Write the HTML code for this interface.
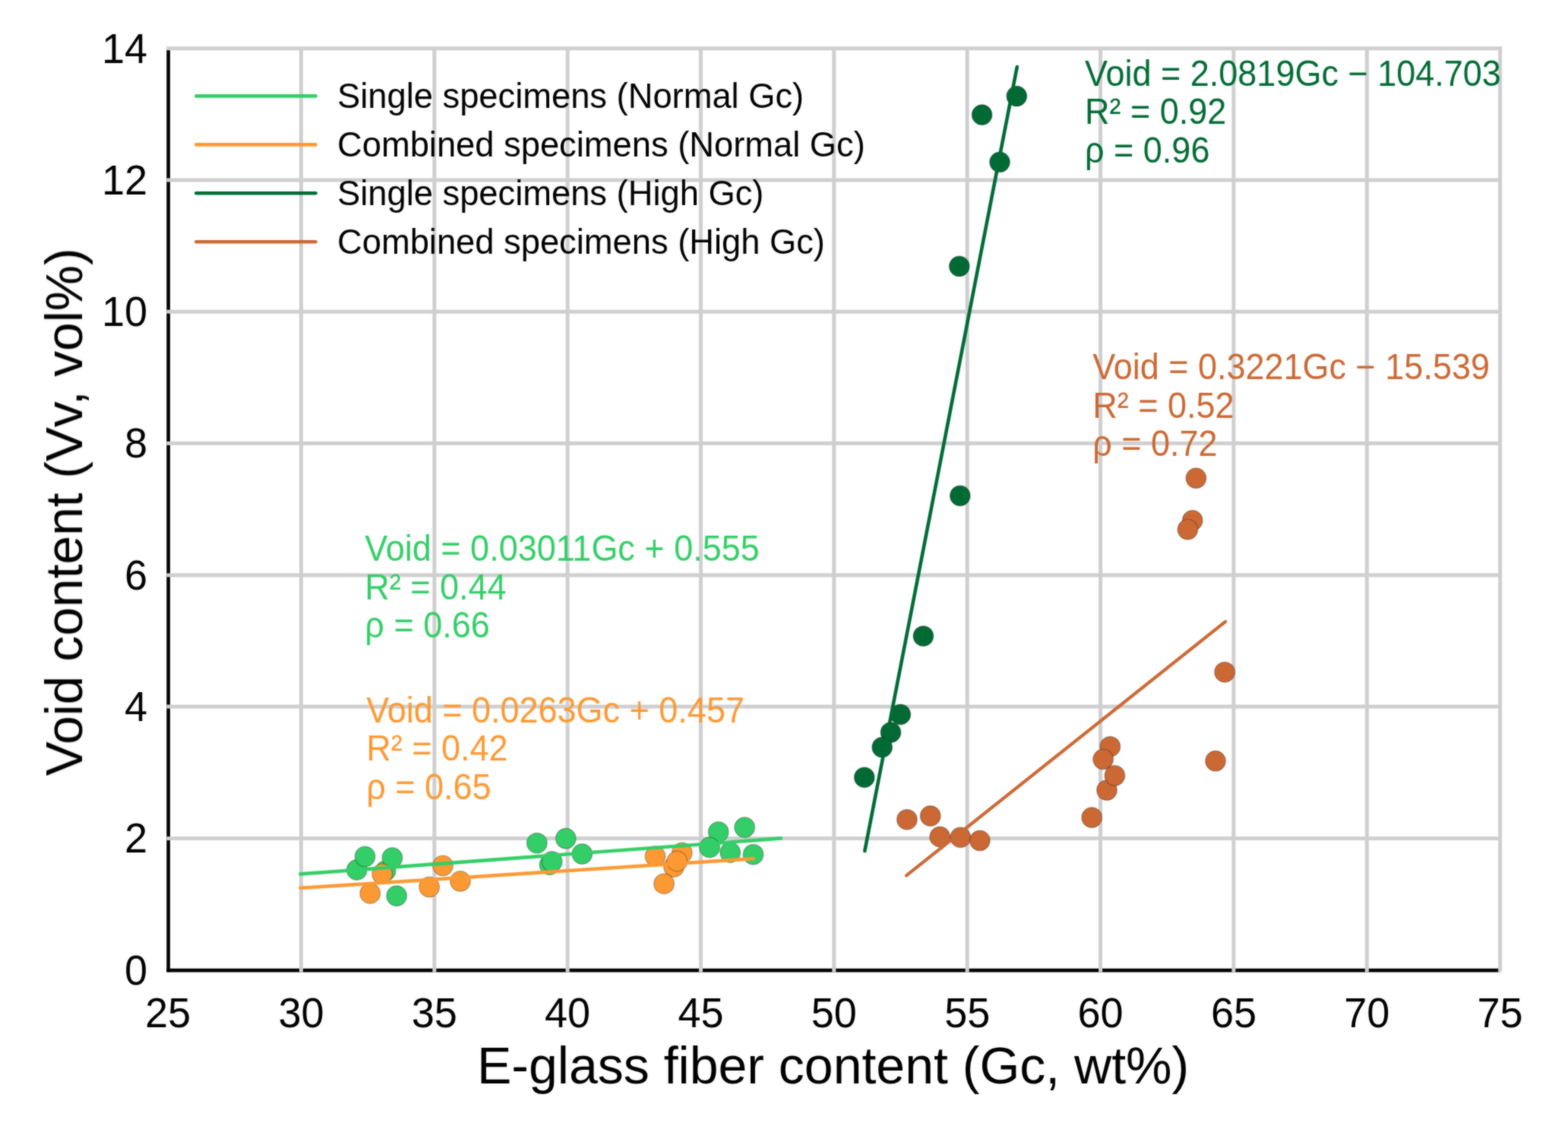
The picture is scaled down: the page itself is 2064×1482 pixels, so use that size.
<!DOCTYPE html>
<html><head><meta charset="utf-8"><title>Void content vs E-glass fiber content</title>
<style>html,body{margin:0;padding:0;background:#fff;width:2064px;height:1482px;overflow:hidden}</style>
</head><body>
<svg width="2064" height="1482" viewBox="0 0 2064 1482" style="display:block">
<defs><filter id="soft" x="0" y="0" width="2064" height="1482" filterUnits="userSpaceOnUse" color-interpolation-filters="sRGB"><feGaussianBlur in="SourceGraphic" stdDeviation="1" result="b"/><feComposite in="SourceGraphic" in2="b" operator="arithmetic" k1="0" k2="0.45" k3="0.55" k4="0"/></filter></defs>
<rect width="2064" height="1482" fill="#fff"/>
<g filter="url(#soft)">
<g stroke="#000" stroke-width="4.6" fill="none">
<line x1="221.6" y1="65" x2="221.6" y2="1279.3"/>
<line x1="219.3" y1="1277.1" x2="1974" y2="1277.1"/>
</g>
<g stroke="#cfcfcf" stroke-width="5" fill="none">
<line x1="396.4" y1="61.5" x2="396.4" y2="1279.5"/>
<line x1="571.8" y1="61.5" x2="571.8" y2="1279.5"/>
<line x1="747.1" y1="61.5" x2="747.1" y2="1279.5"/>
<line x1="922.5" y1="61.5" x2="922.5" y2="1279.5"/>
<line x1="1097.8" y1="61.5" x2="1097.8" y2="1279.5"/>
<line x1="1273.2" y1="61.5" x2="1273.2" y2="1279.5"/>
<line x1="1448.6" y1="61.5" x2="1448.6" y2="1279.5"/>
<line x1="1623.9" y1="61.5" x2="1623.9" y2="1279.5"/>
<line x1="1799.3" y1="61.5" x2="1799.3" y2="1279.5"/>
<line x1="1974.6" y1="61.5" x2="1974.6" y2="1279.5"/>
<line x1="219.3" y1="1103.4" x2="1976.9" y2="1103.4"/>
<line x1="219.3" y1="930.1" x2="1976.9" y2="930.1"/>
<line x1="219.3" y1="756.9" x2="1976.9" y2="756.9"/>
<line x1="219.3" y1="583.6" x2="1976.9" y2="583.6"/>
<line x1="219.3" y1="410.3" x2="1976.9" y2="410.3"/>
<line x1="219.3" y1="237.0" x2="1976.9" y2="237.0"/>
<line x1="219.3" y1="63.7" x2="1976.9" y2="63.7"/>
</g>
<g font-family="'Liberation Sans', Arial, Helvetica, sans-serif" font-size="54" fill="#000">
<text transform="translate(221.1 1352) scale(1 1.04)" text-anchor="middle">25</text>
<text transform="translate(396.4 1352) scale(1 1.04)" text-anchor="middle">30</text>
<text transform="translate(571.8 1352) scale(1 1.04)" text-anchor="middle">35</text>
<text transform="translate(747.1 1352) scale(1 1.04)" text-anchor="middle">40</text>
<text transform="translate(922.5 1352) scale(1 1.04)" text-anchor="middle">45</text>
<text transform="translate(1097.8 1352) scale(1 1.04)" text-anchor="middle">50</text>
<text transform="translate(1273.2 1352) scale(1 1.04)" text-anchor="middle">55</text>
<text transform="translate(1448.6 1352) scale(1 1.04)" text-anchor="middle">60</text>
<text transform="translate(1623.9 1352) scale(1 1.04)" text-anchor="middle">65</text>
<text transform="translate(1799.3 1352) scale(1 1.04)" text-anchor="middle">70</text>
<text transform="translate(1974.6 1352) scale(1 1.04)" text-anchor="middle">75</text>
<text transform="translate(194 1295.5) scale(1 1.04)" text-anchor="end">0</text>
<text transform="translate(194 1122.2) scale(1 1.04)" text-anchor="end">2</text>
<text transform="translate(194 948.9) scale(1 1.04)" text-anchor="end">4</text>
<text transform="translate(194 775.7) scale(1 1.04)" text-anchor="end">6</text>
<text transform="translate(194 602.4) scale(1 1.04)" text-anchor="end">8</text>
<text transform="translate(194 429.1) scale(1 1.04)" text-anchor="end">10</text>
<text transform="translate(194 255.8) scale(1 1.04)" text-anchor="end">12</text>
<text transform="translate(194 82.5) scale(1 1.04)" text-anchor="end">14</text>
</g>
<text x="628" y="1426" font-family="'Liberation Sans', Arial, Helvetica, sans-serif" font-size="68" fill="#000">E-glass fiber content (Gc, wt%)</text>
<text transform="translate(108 1021.3) rotate(-90)" x="0" y="0" font-family="'Liberation Sans', Arial, Helvetica, sans-serif" font-size="67.7" fill="#000">Void content (Vv, vol%)</text>
<line x1="258.2" y1="126.4" x2="415.5" y2="126.4" stroke="#33ce67" stroke-width="4.6" stroke-linecap="round"/>
<text x="444" y="142.2" font-family="'Liberation Sans', Arial, Helvetica, sans-serif" font-size="45.3" fill="#000">Single specimens (Normal Gc)</text>
<line x1="258.2" y1="190.4" x2="415.5" y2="190.4" stroke="#fd9933" stroke-width="4.6" stroke-linecap="round"/>
<text x="444" y="206.2" font-family="'Liberation Sans', Arial, Helvetica, sans-serif" font-size="45.3" fill="#000">Combined specimens (Normal Gc)</text>
<line x1="258.2" y1="254.3" x2="415.5" y2="254.3" stroke="#006a34" stroke-width="4.6" stroke-linecap="round"/>
<text x="444" y="270.1" font-family="'Liberation Sans', Arial, Helvetica, sans-serif" font-size="45.3" fill="#000">Single specimens (High Gc)</text>
<line x1="258.2" y1="318.2" x2="415.5" y2="318.2" stroke="#cb6834" stroke-width="4.6" stroke-linecap="round"/>
<text x="444" y="334.1" font-family="'Liberation Sans', Arial, Helvetica, sans-serif" font-size="45.3" fill="#000">Combined specimens (High Gc)</text>
<g font-family="'Liberation Sans', Arial, Helvetica, sans-serif" font-size="45" fill="#006a34">
<text transform="translate(1428 112.8) scale(1 1.065)">Void = 2.0819Gc − 104.703</text>
<text transform="translate(1428 163.3) scale(1 1.065)">R² = 0.92</text>
<text transform="translate(1428 213.8) scale(1 1.065)">ρ = 0.96</text>
</g>
<g font-family="'Liberation Sans', Arial, Helvetica, sans-serif" font-size="45" fill="#cb6834">
<text transform="translate(1438.2 499.2) scale(1 1.065)">Void = 0.3221Gc − 15.539</text>
<text transform="translate(1438.2 549.7) scale(1 1.065)">R² = 0.52</text>
<text transform="translate(1438.2 600.2) scale(1 1.065)">ρ = 0.72</text>
</g>
<g font-family="'Liberation Sans', Arial, Helvetica, sans-serif" font-size="45" fill="#33ce67">
<text transform="translate(480.3 738.0) scale(1 1.065)">Void = 0.03011Gc + 0.555</text>
<text transform="translate(480.3 788.5) scale(1 1.065)">R² = 0.44</text>
<text transform="translate(480.3 839.0) scale(1 1.065)">ρ = 0.66</text>
</g>
<g font-family="'Liberation Sans', Arial, Helvetica, sans-serif" font-size="45" fill="#fd9933">
<text transform="translate(482.2 950.5) scale(1 1.065)">Void = 0.0263Gc + 0.457</text>
<text transform="translate(482.2 1001.0) scale(1 1.065)">R² = 0.42</text>
<text transform="translate(482.2 1051.5) scale(1 1.065)">ρ = 0.65</text>
</g>
<g fill="#33ce67" stroke="rgba(0,0,0,0.3)" stroke-width="1.2">
<circle cx="522.1" cy="1179.1" r="13.3"/>
<circle cx="507.5" cy="1146.2" r="13.3"/>
<circle cx="516.4" cy="1129" r="13.3"/>
<circle cx="469.7" cy="1144.9" r="13.3"/>
<circle cx="480.5" cy="1127.3" r="13.3"/>
<circle cx="723.5" cy="1138.2" r="13.3"/>
<circle cx="726.7" cy="1134" r="13.3"/>
<circle cx="706.8" cy="1109.7" r="13.3"/>
<circle cx="744.8" cy="1103.6" r="13.3"/>
<circle cx="766.3" cy="1124" r="13.3"/>
<circle cx="945.7" cy="1095" r="13.3"/>
<circle cx="980.2" cy="1089" r="13.3"/>
<circle cx="934.1" cy="1115.4" r="13.3"/>
<circle cx="961.2" cy="1122" r="13.3"/>
<circle cx="991.5" cy="1124.7" r="13.3"/>
</g>
<g fill="#fd9933" stroke="rgba(0,0,0,0.3)" stroke-width="1.2">
<circle cx="503.1" cy="1150.3" r="13.3"/>
<circle cx="487.2" cy="1175.9" r="13.3"/>
<circle cx="583.0" cy="1139.3" r="13.3"/>
<circle cx="565.1" cy="1167.5" r="13.3"/>
<circle cx="605.9" cy="1159.8" r="13.3"/>
<circle cx="862.5" cy="1127" r="13.3"/>
<circle cx="897.8" cy="1122.4" r="13.3"/>
<circle cx="887" cy="1141" r="13.3"/>
<circle cx="891.3" cy="1133.5" r="13.3"/>
<circle cx="874.1" cy="1163.2" r="13.3"/>
</g>
<g fill="#006a34" stroke="rgba(0,0,0,0.3)" stroke-width="1.2">
<circle cx="1292.6" cy="151.1" r="13.3"/>
<circle cx="1338.3" cy="126.6" r="13.3"/>
<circle cx="1316" cy="213.3" r="13.3"/>
<circle cx="1262.8" cy="350.5" r="13.3"/>
<circle cx="1263.8" cy="652.5" r="13.3"/>
<circle cx="1215.4" cy="837.2" r="13.3"/>
<circle cx="1185.3" cy="940.4" r="13.3"/>
<circle cx="1172.5" cy="964" r="13.3"/>
<circle cx="1161.2" cy="983.5" r="13.3"/>
<circle cx="1137.8" cy="1023.2" r="13.3"/>
</g>
<g fill="#cb6834" stroke="rgba(0,0,0,0.3)" stroke-width="1.2">
<circle cx="1193.9" cy="1078.7" r="13.3"/>
<circle cx="1224.7" cy="1073.9" r="13.3"/>
<circle cx="1237.2" cy="1101.4" r="13.3"/>
<circle cx="1264.3" cy="1102.2" r="13.3"/>
<circle cx="1289.8" cy="1106.3" r="13.3"/>
<circle cx="1461.3" cy="982.7" r="13.3"/>
<circle cx="1452.1" cy="999.3" r="13.3"/>
<circle cx="1457" cy="1040" r="13.3"/>
<circle cx="1467.4" cy="1020.8" r="13.3"/>
<circle cx="1437.2" cy="1076" r="13.3"/>
<circle cx="1600" cy="1001.6" r="13.3"/>
<circle cx="1574.4" cy="629.3" r="13.3"/>
<circle cx="1569.7" cy="685" r="13.3"/>
<circle cx="1563.4" cy="696.8" r="13.3"/>
<circle cx="1612.1" cy="884.7" r="13.3"/>
</g>
<line x1="395.4" y1="1150.4" x2="1028.0" y2="1103.4" stroke="#33ce67" stroke-width="4.6" stroke-linecap="round"/>
<line x1="395.4" y1="1168.8" x2="991.5" y2="1130.1" stroke="#fd9933" stroke-width="4.6" stroke-linecap="round"/>
<line x1="1138.3" y1="1120.0" x2="1338.8" y2="88.0" stroke="#006a34" stroke-width="4.6" stroke-linecap="round"/>
<line x1="1193.1" y1="1152.4" x2="1613.0" y2="818.2" stroke="#cb6834" stroke-width="4.3" stroke-linecap="round"/>
</g>
</svg>
</body></html>
